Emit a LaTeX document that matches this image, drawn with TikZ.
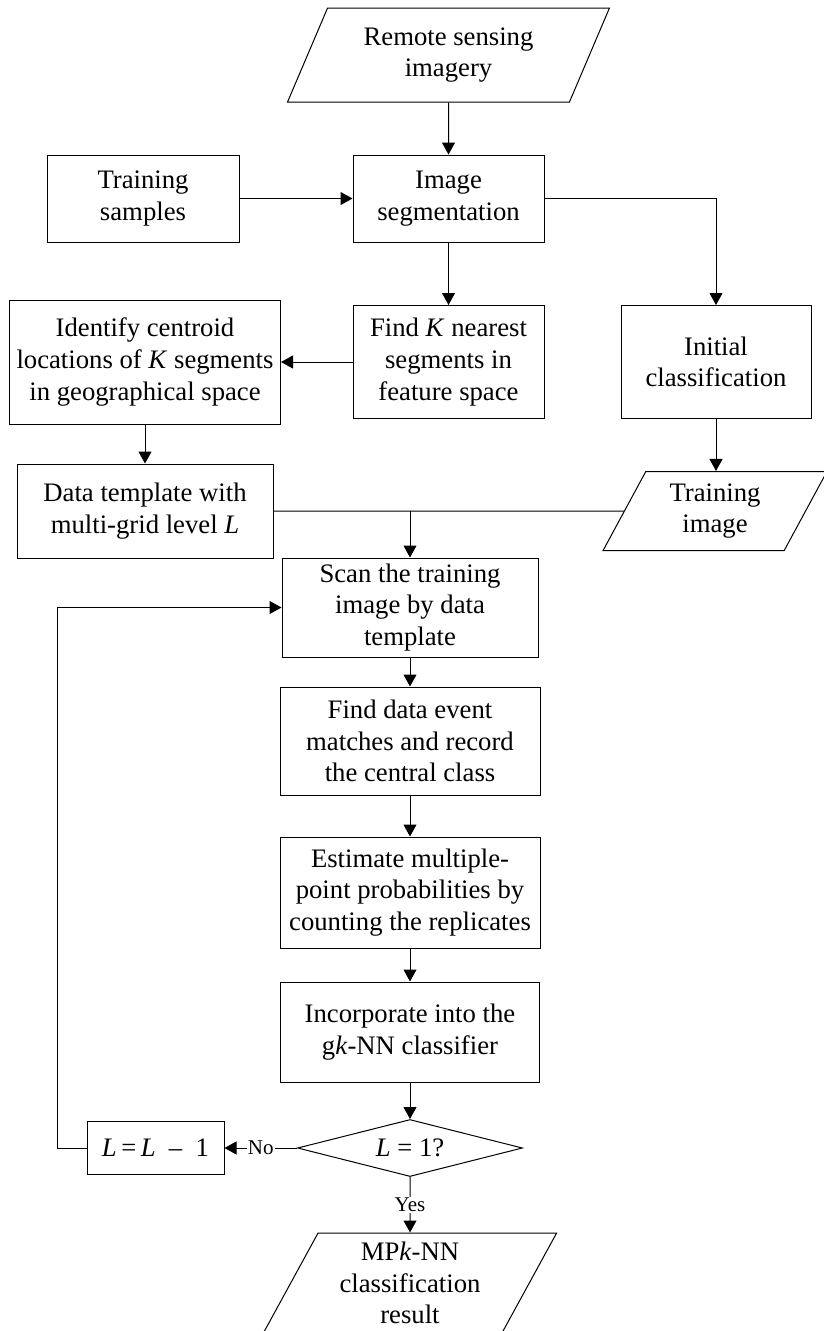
\documentclass[tikz,border=0pt]{standalone}
\usepackage{fontspec}
\setmainfont{Liberation Serif}
\usetikzlibrary{shapes.geometric,arrows.meta}
\tikzset{
  proc/.style={draw, line width=1pt, align=center, inner sep=0pt, font=\fontsize{26.7}{31.7}\selectfont},
  io/.style={proc, trapezium, trapezium left angle=63, trapezium right angle=117, trapezium stretches=true},
  decide/.style={proc, diamond, aspect=4},
  arr/.style={line width=1pt, -{Triangle[length=12pt,width=13pt]}},
  lbl/.style={fill=white, inner sep=1pt, font=\fontsize{21}{24}\selectfont}
}
\begin{document}
\begin{tikzpicture}[x=1pt, y=-1pt]
  \useasboundingbox (0,0) rectangle (824,1331);
  \clip (0,0) rectangle (824,1331);

        \node[io, minimum width=323, minimum height=94] (rs) at (448.5,55) {Remote sensing\\imagery};
        \node[proc, minimum width=192, minimum height=87] (ts) at (143,198.5) {Training\\samples};
        \node[proc, minimum width=191, minimum height=87] (seg) at (448.5,198.5) {Image\\segmentation};
        \node[proc, minimum width=191, minimum height=113] (findk) at (448.5,362) {Find \textit{K} nearest\\segments in\\feature space};
        \node[proc, minimum width=190, minimum height=113] (init) at (716,362) {Initial\\classification};
        \node[proc, minimum width=271, minimum height=124] (ident) at (145,362) {Identify centroid\\locations of \textit{K} segments\\in geographical space};
        \node[proc, minimum width=256, minimum height=94] (dt) at (145,511) {Data template with\\multi-grid level \textit{L}};
        \node[io, minimum width=224, minimum height=79] (ti) at (715,511) {Training\\image};
        \node[proc, minimum width=256, minimum height=99] (scan) at (410,607.5) {Scan the training\\image by data\\template};
        \node[proc, minimum width=260, minimum height=108] (match) at (410,741) {Find data event\\matches and record\\the central class};
        \node[proc, minimum width=260, minimum height=111] (est) at (410,892.5) {Estimate multiple-\\point probabilities by\\counting the replicates};
        \node[proc, minimum width=259, minimum height=100] (inc) at (410,1032) {Incorporate into the\\g\textit{k}-NN classifier};
        \node[decide, minimum width=225, minimum height=57] (dec) at (410,1148) {\textit{L} = 1?};
        \node[proc, minimum width=137, minimum height=53] (lbox) at (155.5,1148) {\textit{L}\,=\,\textit{L}\enspace–\enspace1};
        \node[io, minimum width=294, minimum height=100] (mp) at (410,1283) {MP\textit{k}-NN\\classification\\result};

        \coordinate (join) at (scan.north |- dt.east);

        \draw[arr] (rs.south) -- (seg.north);
        \draw[arr] (ts.east) -- (seg.west);
        \draw[arr] (seg.south) -- (findk.north);
        \draw[arr] (seg.east) -| (init.north);
        \draw[arr] (findk.west) -- (ident.east);
        \draw[arr] (ident.south) -- (dt.north);
        \draw[arr] (init.south) -- (init.south |- ti.north);
        \draw[line width=1pt] (dt.east) -- (ti.west);
        \draw[arr] (join) -- (scan.north);
        \draw[arr] (scan.south) -- (match.north);
        \draw[arr] (match.south) -- (est.north);
        \draw[arr] (est.south) -- (inc.north);
        \draw[arr] (inc.south) -- (dec.north);
        \draw[arr] (dec.west) -- node[lbl] {No} (lbox.east);
        \draw[arr] (dec.south) -- node[lbl] {Yes} (mp.north);
        \draw[arr] (lbox.west) -- ++(-29,0) |- (scan.west);

\end{tikzpicture}
\end{document}
